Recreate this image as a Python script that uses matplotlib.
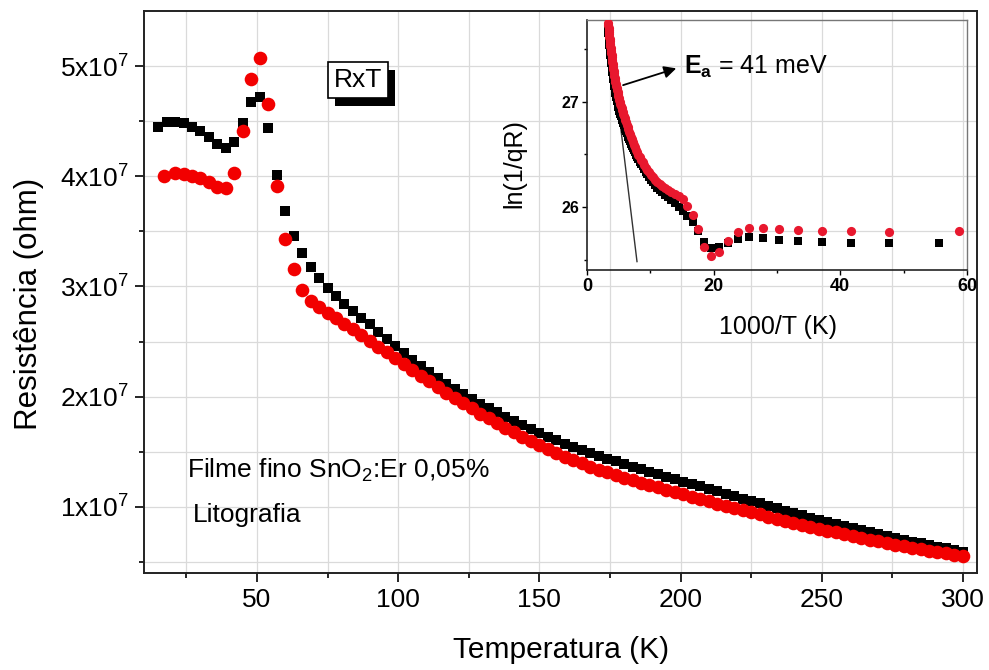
import numpy as np
import matplotlib
matplotlib.use("Agg")
import matplotlib.pyplot as plt
import matplotlib.patheffects as pe
from matplotlib.ticker import FixedLocator, FuncFormatter

plt.rcParams["font.family"] = ["Liberation Sans", "DejaVu Sans"]
plt.rcParams["mathtext.fontset"] = "custom"
plt.rcParams["mathtext.rm"] = "Liberation Sans"
plt.rcParams["mathtext.it"] = "Liberation Sans:italic"
plt.rcParams["mathtext.bf"] = "Liberation Sans:bold"

# ---- R x T data (resistance in units of 1e7 ohm) ----
T_black = np.arange(15, 301, 3)
R_black = np.array([
    4.45, 4.49, 4.49, 4.48, 4.45, 4.41, 4.36, 4.29, 4.26, 4.31,
    4.48, 4.67, 4.72, 4.44, 4.01, 3.685, 3.46, 3.30, 3.175, 3.075,
    2.99, 2.912, 2.845, 2.775, 2.715, 2.655, 2.59, 2.524, 2.457, 2.395,
    2.335, 2.277, 2.221, 2.168, 2.117, 2.069, 2.023, 1.980, 1.938, 1.897,
    1.857, 1.818, 1.780, 1.743, 1.706, 1.670, 1.637, 1.605, 1.575, 1.545,
    1.516, 1.488, 1.461, 1.436, 1.412, 1.388, 1.364, 1.341, 1.318, 1.295,
    1.273, 1.251, 1.229, 1.207, 1.185, 1.163, 1.141, 1.119, 1.097, 1.075,
    1.053, 1.031, 1.009, 0.987, 0.966, 0.945, 0.924, 0.903, 0.883, 0.863,
    0.844, 0.825, 0.806, 0.788, 0.770, 0.752, 0.735, 0.718, 0.701, 0.685,
    0.669, 0.653, 0.638, 0.623, 0.608, 0.594]) * 1e7

T_red = np.array([17] + list(range(21, 301, 3)))
R_red = np.array([
    4.00, 4.03, 4.025, 4.005, 3.98, 3.95, 3.90, 3.89, 4.03, 4.41,
    4.88, 5.075, 4.66, 3.915, 3.43, 3.16, 2.965, 2.87, 2.815, 2.763,
    2.712, 2.661, 2.610, 2.559, 2.507, 2.455, 2.402, 2.349, 2.296, 2.243,
    2.190, 2.138, 2.087, 2.037, 1.988, 1.940, 1.893, 1.847, 1.803, 1.760,
    1.718, 1.677, 1.637, 1.598, 1.560, 1.524, 1.489, 1.456, 1.424, 1.394,
    1.365, 1.338, 1.312, 1.288, 1.264, 1.241, 1.219, 1.197, 1.176, 1.155,
    1.134, 1.113, 1.092, 1.071, 1.050, 1.030, 1.010, 0.990, 0.970, 0.950,
    0.931, 0.912, 0.893, 0.874, 0.856, 0.838, 0.820, 0.802, 0.785, 0.768,
    0.751, 0.735, 0.719, 0.703, 0.688, 0.673, 0.658, 0.644, 0.630, 0.616,
    0.603, 0.590, 0.578, 0.566, 0.555]) * 1e7

# elementary charge used in ln(1/qR)
Q_E = 1.602e-19

# linear fit (activation energy) drawn in the Arrhenius inset
FIT_INV_T = [3.4, 7.9]
FIT_LN = [27.71, 25.48]

X_TICKS = [50, 100, 150, 200, 250, 300]
Y_TICKS = [1e7, 2e7, 3e7, 4e7, 5e7]

fig = plt.figure(figsize=(9.89, 6.70), dpi=100)
ax = fig.add_axes([0.1456, 0.1448, 0.8423, 0.8388])

ax.plot(T_black, R_black, "s", color="black", ms=7.9, mew=0, zorder=3)
ax.plot(T_red, R_red, "o", color="#f20000", ms=9.8, mew=0, zorder=4)

ax.set_xlim(10, 305)
ax.set_ylim(0.4e7, 5.5e7)
ax.xaxis.set_major_locator(FixedLocator(X_TICKS))
ax.xaxis.set_minor_locator(FixedLocator([25, 75, 125, 175, 225, 275]))
ax.yaxis.set_major_locator(FixedLocator(Y_TICKS))
ax.yaxis.set_minor_locator(FixedLocator([0.5e7, 1.5e7, 2.5e7, 3.5e7, 4.5e7]))
ax.yaxis.set_major_formatter(
    FuncFormatter(lambda v, p: r"$\mathregular{%dx10^{7}}$" % round(v / 1e7)))
ax.tick_params(which="major", direction="out", length=6.5, width=1.2,
               labelsize=19, pad=4.5)
ax.tick_params(which="minor", direction="out", length=3.6, width=1.2)
ax.grid(which="both", color="#dadada", lw=0.9, zorder=0)
ax.set_axisbelow(True)
for s in ax.spines.values():
    s.set_linewidth(1.4)
    s.set_color("#222222")

fig.text(561 / 989, 1 - 650 / 670, "Temperatura (K)", ha="center",
         va="center", fontsize=21.5)
fig.text(29 / 989, 1 - 304 / 670, "Resistência (ohm)", ha="center",
         va="center", rotation=90, fontsize=22.5)

# boxed title with a solid drop shadow on its frame
title = ax.text(0.257, 0.877, "RxT", transform=ax.transAxes, ha="center",
                va="center", fontsize=19,
                bbox=dict(boxstyle="square,pad=0.22", fc="white", ec="black",
                          lw=1.2),
                zorder=6)
title.get_bbox_patch().set_path_effects([
    pe.SimplePatchShadow(offset=(5, -5.8), shadow_rgbFace="black", alpha=1.0),
    pe.Normal()])

ax.text(0.0516, 0.169, r"Filme fino SnO$_2$:Er 0,05%", transform=ax.transAxes,
        fontsize=19, va="baseline")
ax.text(0.0588, 0.0907, "Litografia", transform=ax.transAxes, fontsize=19,
        va="baseline")

# ---- Arrhenius inset ----
axin = fig.add_axes([0.5935, 0.597, 0.3842, 0.3731])
axin.patch.set_alpha(0)
axin.plot(FIT_INV_T, FIT_LN, "-", color="#333333", lw=1.0, zorder=2)
axin.plot(1000 / T_black, np.log(1 / (Q_E * R_black)), "s", color="black",
          ms=5.2, mew=0, zorder=3)
axin.plot(1000 / T_red, np.log(1 / (Q_E * R_red)), "o", color="#e8182e",
          ms=6.6, mew=0, zorder=4)
axin.set_xlim(0, 60)
axin.set_ylim(25.4, 27.78)
axin.xaxis.set_major_locator(FixedLocator([0, 20, 40, 60]))
axin.xaxis.set_minor_locator(FixedLocator([10, 30, 50]))
axin.yaxis.set_major_locator(FixedLocator([26, 27]))
axin.yaxis.set_minor_locator(FixedLocator([25.5, 26.5, 27.5]))
axin.tick_params(which="major", direction="out", length=3.5, width=1.0,
                 pad=2)
axin.tick_params(which="minor", direction="out", length=2.2, width=1.0)
axin.tick_params(axis="x", labelsize=13)
axin.tick_params(axis="y", labelsize=11.5)
for lab in axin.get_xticklabels() + axin.get_yticklabels():
    lab.set_fontweight("bold")
for side in ("left", "bottom"):
    axin.spines[side].set_linewidth(1.2)
    axin.spines[side].set_color("#222222")
for side in ("top", "right"):
    axin.spines[side].set_linewidth(1.0)
    axin.spines[side].set_color("#777777")

axin.annotate("", xy=(14.1, 27.32), xytext=(5.7, 27.16),
              arrowprops=dict(arrowstyle="-|>", color="black", lw=1.3,
                              mutation_scale=18, shrinkA=0, shrinkB=0),
              zorder=6)
axin.text(15.4, 27.33, r"$\mathbf{E}_{\mathbf{a}}$ = 41 meV", fontsize=18,
          va="center", zorder=6)

fig.text(514 / 989, 1 - 164 / 670, "ln(1/qR)", ha="center", va="center",
         rotation=90, fontsize=18)
fig.text(778 / 989, 1 - 327 / 670, "1000/T (K)", ha="center", va="center",
         fontsize=18)

fig.savefig("out.png", dpi=100)
